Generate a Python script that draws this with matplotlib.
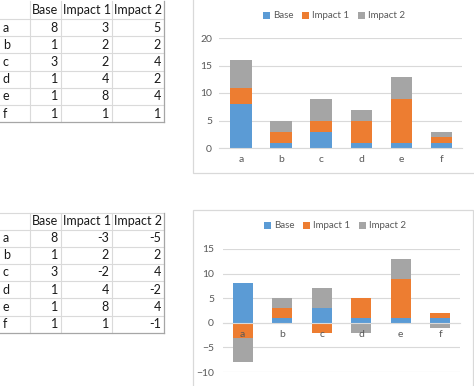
import numpy as np
import matplotlib.pyplot as plt
from matplotlib.patches import Rectangle

categories = ['a', 'b', 'c', 'd', 'e', 'f']
series_names = ['Base', 'Impact 1', 'Impact 2']

# first table / chart
base_1 = [8, 1, 3, 1, 1, 1]
impact1_1 = [3, 2, 2, 4, 8, 1]
impact2_1 = [5, 2, 4, 2, 4, 1]
yticks_1 = [0, 5, 10, 15, 20]

# second table / chart (with negatives)
base_2 = [8, 1, 3, 1, 1, 1]
impact1_2 = [-3, 2, -2, 4, 8, 1]
impact2_2 = [-5, 2, 4, -2, 4, -1]
yticks_2 = [-10, -5, 0, 5, 10, 15]

colors = ['#5B9BD5', '#ED7D31', '#A5A5A5']
text_gray = '#595959'
grid_gray = '#D9D9D9'

W, H = 474, 386
plt.rcParams['font.family'] = ['Lato', 'DejaVu Sans']

fig = plt.figure(figsize=(W / 100, H / 100), dpi=100)

# background layer in pixel coords for the sheet tables and chart frames
bg = fig.add_axes([0, 0, 1, 1])
bg.set_xlim(0, W)
bg.set_ylim(H, 0)
bg.axis('off')


def draw_table(top, header_bottom, row_h, cols, draw_top):
    col_x = [30, 61, 112, 164]
    row_y = [header_bottom + i * row_h for i in range(len(categories) + 1)]
    lines = row_y[:-1] + ([top] if draw_top else [])
    for y in lines:
        bg.plot([0, col_x[-1]], [y, y], color='#DADADA', lw=0.8)
    for x in col_x[:-1]:
        bg.plot([x, x], [top, row_y[-1]], color='#DADADA', lw=0.8)
    bg.plot([0, col_x[-1]], [row_y[-1], row_y[-1]], color='#A6A6A6', lw=0.9)
    bg.plot([col_x[-1], col_x[-1]], [top, row_y[-1]], color='#A6A6A6', lw=0.9)

    hy = (top + header_bottom) / 2
    for j, name in enumerate(series_names):
        bg.text(col_x[j] + 2, hy, name, ha='left', va='center', fontsize=9, color='#1a1a1a')
    for i, cat in enumerate(categories):
        cy = row_y[i] + row_h / 2
        bg.text(3, cy, cat, ha='left', va='center', fontsize=9, color='#1a1a1a')
        for j, vals in enumerate(cols):
            bg.text(col_x[j + 1] - 3, cy, str(vals[i]), ha='right', va='center',
                    fontsize=9, color='#1a1a1a')


draw_table(1, 19, 17.2, [base_1, impact1_1, impact2_1], False)
draw_table(212.5, 229.5, 17.2, [base_2, impact1_2, impact2_2], True)

# chart frames
bg.add_patch(Rectangle((193, -5), 290, 178, facecolor='white', edgecolor=grid_gray, lw=0.9))
bg.add_patch(Rectangle((193, 210), 280, 200, facecolor='white', edgecolor=grid_gray, lw=0.9))


def px_axes(left, top, right, bottom):
    return fig.add_axes([left / W, 1 - bottom / H, (right - left) / W, (bottom - top) / H])


def draw_chart(ax, series, yticks, width, xlim, legend_xy, ypad):
    x = np.arange(len(categories))
    pos = np.zeros(len(categories))
    neg = np.zeros(len(categories))
    bars = []
    for vals, c, name in zip(series, colors, series_names):
        vals = np.array(vals, dtype=float)
        bottoms = np.where(vals >= 0, pos, neg)
        bars.append(ax.bar(x, vals, width, bottom=bottoms, color=c, label=name))
        pos += np.clip(vals, 0, None)
        neg += np.clip(vals, None, 0)

    for t in yticks:
        ax.axhline(t, color=grid_gray, lw=0.8, zorder=0.5)

    ax.set_facecolor('none')
    ax.set_xlim(*xlim)
    ax.set_ylim(yticks[0], yticks[-1])
    ax.set_yticks(yticks)
    ax.set_xticks(x, categories)
    for s in ['top', 'right', 'left']:
        ax.spines[s].set_visible(False)
    ax.spines['bottom'].set_position(('data', 0))
    ax.spines['bottom'].set_color(grid_gray)
    ax.spines['bottom'].set_linewidth(0.8)
    ax.tick_params(axis='x', length=0, pad=5, labelsize=7.5, labelcolor=text_gray)
    ax.tick_params(axis='y', length=0, pad=ypad, labelsize=7.5, labelcolor=text_gray)

    ax.legend(handles=bars, loc='center', bbox_to_anchor=(legend_xy[0] / W, 1 - legend_xy[1] / H),
              bbox_transform=fig.transFigure, ncol=3, frameon=False,
              handlelength=0.7, handleheight=0.7, handletextpad=0.3,
              columnspacing=0.9, fontsize=7, labelcolor=text_gray)


ax1 = px_axes(219, 38, 462, 148)
draw_chart(ax1, [base_1, impact1_1, impact2_1], yticks_1, 0.53, (-0.55, 5.52), (334, 16), 5)

ax2 = px_axes(223, 249, 460, 372)
draw_chart(ax2, [base_2, impact1_2, impact2_2], yticks_2, 0.5, (-0.5, 5.5), (335, 226), 6.5)

fig.savefig('out.png', dpi=100)
